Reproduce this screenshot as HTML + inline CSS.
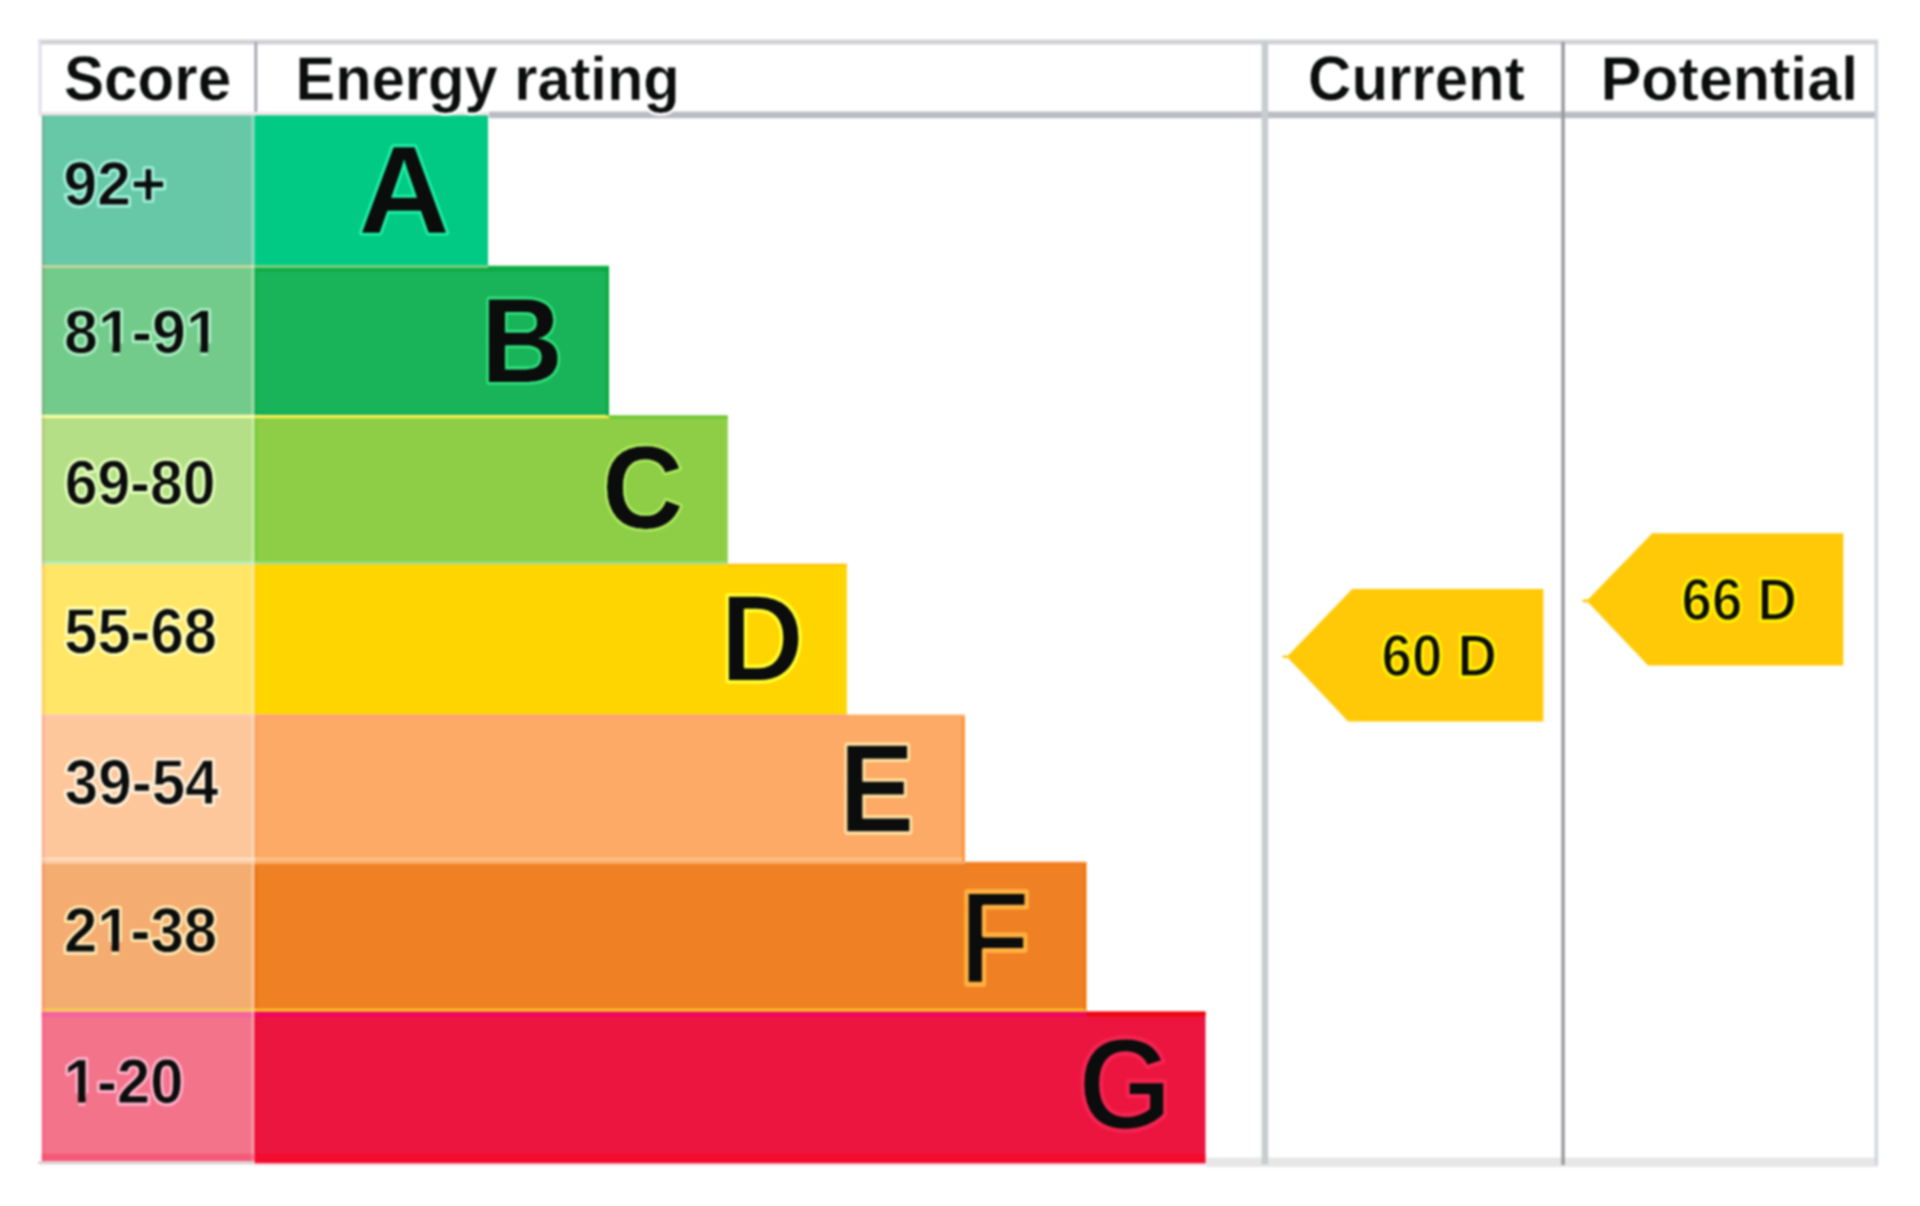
<!DOCTYPE html>
<html lang="en"><head><meta charset="utf-8"><title>Energy rating</title>
<style>
html,body{margin:0;padding:0;background:#fff;}
body{width:1920px;height:1206px;overflow:hidden;}
svg{display:block;}
text{font-family:"Liberation Sans",Arial,Helvetica,sans-serif;font-weight:bold;stroke-linejoin:round;text-rendering:geometricPrecision;}
text.m{fill:#0b0c0c;}
.hd{font-size:59.8px;}.sc{font-size:59.8px;}.lt{font-size:119.5px;}.ar{font-size:55px;}
.hd.h{stroke-width:5px;}.sc.h{stroke-width:5px;}.lt.h{stroke-width:5px;}.ar.h{stroke-width:4.5px;}
</style></head><body>
<svg width="1920" height="1206" viewBox="0 0 1920 1206">
<defs><filter id="soft" x="-2%" y="-2%" width="104%" height="104%" color-interpolation-filters="sRGB"><feGaussianBlur stdDeviation="0.8"/></filter></defs>
<rect x="0" y="0" width="1920" height="1206" fill="#ffffff"/>
<g filter="url(#soft)">
<g id="grid">
<rect x="38.6" y="39.6" width="1839.6" height="4.8" fill="#d0d0d6"/>
<rect x="38.6" y="39.6" width="3" height="76" fill="#dedee8"/>
<rect x="254.4" y="42" width="2.9" height="73" fill="#a6a6b2"/>
<rect x="489" y="111.6" width="1389" height="6.6" fill="#bbbbc4"/>
<rect x="41" y="111.8" width="448" height="3.4" fill="#f3e4ea"/>
<rect x="1206" y="1157.6" width="672" height="9.4" fill="#e7e7e8"/>
<rect x="1261.6" y="42" width="6.6" height="1122.4" fill="#c6cdce"/>
<rect x="1561.3" y="42" width="3.5" height="1123" fill="#999ba0"/>
<rect x="1874.6" y="42" width="3.5" height="1123" fill="#d2d6de"/>
</g>
<g id="bands">
<rect x="41.8" y="115.3" width="212.8" height="151.2" fill="#66C8A6"/>
<rect x="254.6" y="115.3" width="233.4" height="151.2" fill="#00CA84"/>
<rect x="41.8" y="266.5" width="212.8" height="149.9" fill="#72CA8B"/>
<rect x="254.6" y="266.5" width="354.4" height="149.9" fill="#19B459"/>
<rect x="41.8" y="416.4" width="212.8" height="147.8" fill="#B4DF86"/>
<rect x="254.6" y="416.4" width="473.2" height="147.8" fill="#8DCE46"/>
<rect x="41.8" y="564.2" width="212.8" height="150.4" fill="#FFE666"/>
<rect x="254.6" y="564.2" width="592.3" height="150.4" fill="#FFD500"/>
<rect x="41.8" y="714.6" width="212.8" height="149.0" fill="#FDC79B"/>
<rect x="254.6" y="714.6" width="710.2" height="149.0" fill="#FCAA65"/>
<rect x="41.8" y="863.6" width="212.8" height="148.0" fill="#F4AC71"/>
<rect x="254.6" y="863.6" width="831.8" height="148.0" fill="#EF8023"/>
<rect x="41.8" y="1011.6" width="212.8" height="149.6" fill="#F2738A"/>
<rect x="254.6" y="1011.6" width="950.9" height="151.8" fill="#EC1540"/>
</g>
<g id="seams">
<rect x="41.8" y="265.0" width="212.8" height="3.0" fill="#cfd99a" fill-opacity="0.85"/>
<rect x="254.6" y="265.0" width="233.4" height="3.0" fill="#86d27a" fill-opacity="0.85"/>
<rect x="488" y="265.6" width="121.0" height="2.8" fill="#0aa83a" fill-opacity="0.75"/>
<rect x="254.6" y="268.2" width="354.4" height="3.2" fill="#00a030" fill-opacity="0.5"/>
<rect x="41.8" y="414.7" width="212.8" height="3.4" fill="#ffffa0" fill-opacity="0.95"/>
<rect x="254.6" y="414.7" width="354.4" height="3.4" fill="#fff050" fill-opacity="0.95"/>
<rect x="609" y="415.2" width="118.8" height="3.2" fill="#62c224" fill-opacity="0.8"/>
<rect x="41.8" y="561.3" width="212.8" height="2.9" fill="#b9f0c2" fill-opacity="0.85"/>
<rect x="254.6" y="561.3" width="473.2" height="2.9" fill="#9fe08c" fill-opacity="0.85"/>
<rect x="727.8" y="563.6" width="119.1" height="2.4" fill="#ffb400" fill-opacity="0.6"/>
<rect x="41.8" y="714.8" width="212.8" height="2.8" fill="#ffc4b4" fill-opacity="0.8"/>
<rect x="254.6" y="714.8" width="592.3" height="2.8" fill="#fb9c84" fill-opacity="0.7"/>
<rect x="41.8" y="857.6" width="212.8" height="3.0" fill="#ffe2cc" fill-opacity="0.85"/>
<rect x="254.6" y="857.6" width="710.2" height="3.0" fill="#ffd49c" fill-opacity="0.6"/>
<rect x="964.8" y="861.6" width="121.6" height="3.4" fill="#ee6c00" fill-opacity="0.7"/>
<rect x="41.8" y="1008.6" width="212.8" height="2.6" fill="#f8d24a" fill-opacity="0.9"/>
<rect x="254.6" y="1008.6" width="831.8" height="2.6" fill="#fcc21e" fill-opacity="0.95"/>
<rect x="41.8" y="1012.6" width="212.8" height="4.4" fill="#f85aa8" fill-opacity="0.8"/>
<rect x="254.6" y="1012.6" width="831.8" height="4.4" fill="#f0006c" fill-opacity="0.8"/>
<rect x="1086.4" y="1011.6" width="119.1" height="4.6" fill="#f00000" fill-opacity="0.8"/>
<rect x="251.3" y="115.3" width="2.6" height="1045.9" fill="#ffffff" fill-opacity="0.28"/>
<rect x="41.8" y="115.3" width="3.0" height="1045.9" fill="#e00030" fill-opacity="0.1"/>
<rect x="254.6" y="271" width="3.0" height="143.0" fill="#00a030" fill-opacity="0.35"/>
<rect x="254.6" y="418" width="3.0" height="143.0" fill="#58c010" fill-opacity="0.3"/>
<rect x="254.6" y="566" width="3.0" height="148.0" fill="#ffc400" fill-opacity="0.35"/>
<rect x="254.6" y="718" width="3.0" height="139.0" fill="#ff8848" fill-opacity="0.3"/>
<rect x="254.6" y="866" width="3.0" height="142.0" fill="#e86400" fill-opacity="0.4"/>
<rect x="254.6" y="1017" width="3.0" height="137.0" fill="#f00020" fill-opacity="0.45"/>
<rect x="606.0" y="268" width="3.0" height="148.0" fill="#00a02c" fill-opacity="0.55"/>
<rect x="254.6" y="411.2" width="354.4" height="3.5" fill="#00a060" fill-opacity="0.35"/>
<rect x="962.0" y="717" width="2.8" height="145.0" fill="#ff8020" fill-opacity="0.6"/>
<rect x="1083.4" y="864" width="3.0" height="146.0" fill="#f07000" fill-opacity="0.55"/>
<rect x="41.8" y="1153.8" width="212.8" height="7.4" fill="#ff0030" fill-opacity="0.22"/>
<rect x="254.6" y="1153.8" width="950.9" height="9.6" fill="#ff0018" fill-opacity="0.45"/>
<rect x="38.2" y="1161.2" width="216.4" height="3.2" fill="#dccad2" fill-opacity="0.9"/>
<rect x="254.6" y="1163.4" width="950.9" height="2.2" fill="#f0d0e0" fill-opacity="0.7"/>
</g>
<g id="arrows">
<polygon points="1282.6,655.4 1288.1,655.4 1352.3,589.1 1543.4,589.1 1543.4,721.4 1348.2,721.4 1288.1,658.0 1282.6,658.0" fill="#FFC907"/>
<polygon points="1582.5,599.6 1588.0,599.6 1652.2,533.3 1843.3,533.3 1843.3,665.6 1648.1,665.6 1588.0,602.2 1582.5,602.2" fill="#FFC907"/>
</g>
<g id="halo">
<text class="sc h" transform="translate(63.48,205.26) scale(1.0127,1.0335)" stroke="#a0f0d8" fill="#a0f0d8" aria-hidden="true">92+</text>
<text class="lt h" transform="translate(358.54,233.00) scale(1.0572,1.0470)" stroke="#20f0a8" fill="#20f0a8" aria-hidden="true">A</text>
<text class="sc h" transform="translate(64.07,353.00) scale(1.0182,1.0306)" stroke="#a8f0c0" fill="#a8f0c0" aria-hidden="true">81-91</text>
<text class="lt h" transform="translate(481.23,382.41) scale(0.9449,1.0072)" stroke="#30e880" fill="#30e880" aria-hidden="true">B</text>
<text class="sc h" transform="translate(64.78,504.36) scale(0.9853,1.0475)" stroke="#e0ffb8" fill="#e0ffb8" aria-hidden="true">69-80</text>
<text class="lt h" transform="translate(602.20,527.91) scale(0.9395,0.9812)" stroke="#b0f060" fill="#b0f060" aria-hidden="true">C</text>
<text class="sc h" transform="translate(64.27,653.11) scale(0.9975,1.0634)" stroke="#ffffb0" fill="#ffffb0" aria-hidden="true">55-68</text>
<text class="lt h" transform="translate(720.21,680.76) scale(0.9717,1.0366)" stroke="#ffff30" fill="#ffff30" aria-hidden="true">D</text>
<text class="sc h" transform="translate(64.85,804.05) scale(1.0049,1.0622)" stroke="#fff0d8" fill="#fff0d8" aria-hidden="true">39-54</text>
<text class="lt h" transform="translate(839.19,832.11) scale(0.9424,1.0552)" stroke="#ffe0a0" fill="#ffe0a0" aria-hidden="true">E</text>
<text class="sc h" transform="translate(63.90,951.85) scale(1.0021,1.0590)" stroke="#ffe8b0" fill="#ffe8b0" aria-hidden="true">21-38</text>
<text class="lt h" transform="translate(958.99,984.00) scale(0.9811,1.1201)" stroke="#ffb040" fill="#ffb040" aria-hidden="true">F</text>
<text class="sc h" transform="translate(63.84,1103.27) scale(0.9986,1.0515)" stroke="#ffb0c8" fill="#ffb0c8" aria-hidden="true">1-20</text>
<text class="lt h" transform="translate(1077.91,1129.46) scale(1.0128,1.0909)" stroke="#f42450" fill="#f42450" aria-hidden="true">G</text>
<text class="hd h" transform="translate(63.97,99.85) scale(1.0065,1.0515)" stroke="#ffffff" fill="#ffffff" aria-hidden="true">Score</text>
<text class="hd h" transform="translate(295.56,100.09) scale(0.9967,1.0343)" stroke="#ffffff" fill="#ffffff" aria-hidden="true">Energy rating</text>
<text class="hd h" transform="translate(1308.09,99.93) scale(1.0028,1.0526)" stroke="#ffffff" fill="#ffffff" aria-hidden="true">Current</text>
<text class="hd h" transform="translate(1600.69,100.02) scale(1.0194,1.0347)" stroke="#ffffff" fill="#ffffff" aria-hidden="true">Potential</text>
<text class="ar h" transform="translate(1381.61,675.77) scale(0.9933,1.0809)" stroke="#fff200" fill="#fff200" aria-hidden="true">60 D</text>
<text class="ar h" transform="translate(1681.61,619.77) scale(0.9933,1.0809)" stroke="#fff200" fill="#fff200" aria-hidden="true">66 D</text>
</g>
<g id="labels">
<text class="sc m" transform="translate(63.48,205.26) scale(1.0127,1.0335)" stroke="#a0f0d8" stroke-width="0.88">92+</text>
<text class="lt m" transform="translate(358.54,233.00) scale(1.0572,1.0470)" stroke="#20f0a8" stroke-width="0.57">A</text>
<text class="sc m" transform="translate(64.07,353.00) scale(1.0182,1.0306)" stroke="#a8f0c0" stroke-width="0.88">81-91</text>
<text class="lt m" transform="translate(481.23,382.41) scale(0.9449,1.0072)" stroke="#30e880" stroke-width="0.20">B</text>
<text class="sc m" transform="translate(64.78,504.36) scale(0.9853,1.0475)" stroke="#e0ffb8" stroke-width="0.89">69-80</text>
<text class="lt m" transform="translate(602.20,527.91) scale(0.9395,0.9812)" stroke="#b0f060" stroke-width="0.31">C</text>
<text class="sc m" transform="translate(64.27,653.11) scale(0.9975,1.0634)" stroke="#ffffb0" stroke-width="0.87">55-68</text>
<text class="lt m" transform="translate(720.21,680.76) scale(0.9717,1.0366)" stroke="#ffff30" stroke-width="1.79">D</text>
<text class="sc m" transform="translate(64.85,804.05) scale(1.0049,1.0622)" stroke="#fff0d8" stroke-width="0.87">39-54</text>
<text class="lt m" transform="translate(839.19,832.11) scale(0.9424,1.0552)" stroke="#ffe0a0" stroke-width="1.20">E</text>
<text class="sc m" transform="translate(63.90,951.85) scale(1.0021,1.0590)" stroke="#ffe8b0" stroke-width="0.87">21-38</text>
<text class="lt m" transform="translate(958.99,984.00) scale(0.9811,1.1201)" stroke="#ffb040" stroke-width="3.81">F</text>
<text class="sc m" transform="translate(63.84,1103.27) scale(0.9986,1.0515)" stroke="#ffb0c8" stroke-width="0.88">1-20</text>
<text class="lt m" transform="translate(1077.91,1129.46) scale(1.0128,1.0909)" stroke="#f42450" stroke-width="2.85">G</text>
<text class="hd m" transform="translate(63.97,99.85) scale(1.0065,1.0515)" stroke="#ffffff" stroke-width="0.39">Score</text>
<text class="hd m" transform="translate(295.56,100.09) scale(0.9967,1.0343)" stroke="#ffffff" stroke-width="0.39">Energy rating</text>
<text class="hd m" transform="translate(1308.09,99.93) scale(1.0028,1.0526)" stroke="#ffffff" stroke-width="0.39">Current</text>
<text class="hd m" transform="translate(1600.69,100.02) scale(1.0194,1.0347)" stroke="#ffffff" stroke-width="0.39">Potential</text>
<text class="ar m" transform="translate(1381.61,675.77) scale(0.9933,1.0809)" stroke="#fff200" stroke-width="1.54">60 D</text>
<text class="ar m" transform="translate(1681.61,619.77) scale(0.9933,1.0809)" stroke="#fff200" stroke-width="1.54">66 D</text>
</g>
<g id="covers">
<g transform="translate(64.07,353.00) scale(1.0182,1.0306)" fill="#72CA8B"><rect x="33.65" y="-9.4" width="13.94" height="13.4"/><rect x="54.94" y="-9.4" width="13.31" height="13.4"/><rect x="120.07" y="-9.4" width="13.94" height="13.4"/><rect x="141.36" y="-9.4" width="13.31" height="13.4"/></g>
<g transform="translate(63.90,951.85) scale(1.0021,1.0590)" fill="#F4AC71"><rect x="33.65" y="-9.4" width="13.95" height="13.4"/><rect x="54.93" y="-9.4" width="13.32" height="13.4"/></g>
<g transform="translate(63.84,1103.27) scale(0.9986,1.0515)" fill="#F2738A"><rect x="0.40" y="-9.4" width="13.95" height="13.4"/><rect x="21.68" y="-9.4" width="13.32" height="13.4"/></g>
</g>
</g>
</svg>
</body></html>
